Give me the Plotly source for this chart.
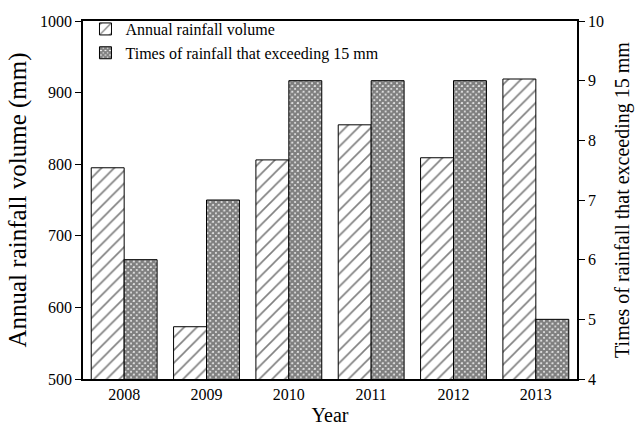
import plotly.graph_objects as go

years = ["2008", "2009", "2010", "2011", "2012", "2013"]
rainfall_mm = [795, 573, 806, 855, 809, 919]
times_over_15mm = [6, 7, 9, 9, 9, 5]

FONT = "Liberation Serif, Times New Roman, serif"

fig = go.Figure()
fig.add_trace(go.Bar(
    x=years, y=rainfall_mm, name="Annual rainfall volume",
    offsetgroup="a", yaxis="y",
    marker=dict(color="white", line=dict(color="black", width=1),
                pattern=dict(shape="/", fgcolor="black", bgcolor="white",
                             size=9, solidity=0.18)),
))
fig.add_trace(go.Bar(
    x=years, y=times_over_15mm, name="Times of rainfall that exceeding 15 mm",
    offsetgroup="b", yaxis="y2",
    marker=dict(color="white", line=dict(color="black", width=1),
                pattern=dict(shape="x", fgcolor="black", bgcolor="white",
                             size=4, solidity=0.85)),
))

fig.update_layout(
    width=644, height=437,
    margin=dict(l=83, r=67, t=15, b=58),
    plot_bgcolor="white", paper_bgcolor="white",
    barmode="group", bargap=0.2, bargroupgap=0,
    font=dict(family=FONT, size=16, color="black"),
    showlegend=True,
    legend=dict(x=0.005, y=1.025, xanchor="left", yanchor="top",
                bgcolor="rgba(0,0,0,0)", font=dict(size=16, family=FONT),
                tracegroupgap=0, itemwidth=30),
    xaxis=dict(
        title=dict(text="Year", font=dict(size=20, family=FONT), standoff=6),
        showline=True, linecolor="black", linewidth=1.5, mirror=True,
        ticks="", tickfont=dict(size=16, family=FONT),
        range=[-0.5, 5.5],
    ),
    yaxis=dict(
        title=dict(text="Annual rainfall volume (mm)", font=dict(size=25, family=FONT), standoff=6),
        range=[500, 1000], dtick=100,
        showline=True, linecolor="black", linewidth=1.8,
        ticks="outside", ticklen=6, tickwidth=1.2, tickcolor="black",
        showgrid=False, zeroline=False, tickfont=dict(size=16, family=FONT),
    ),
    yaxis2=dict(
        title=dict(text="Times of rainfall that exceeding 15 mm", font=dict(size=20, family=FONT), standoff=12),
        overlaying="y", side="right", range=[4, 10], dtick=1,
        showline=True, linecolor="black", linewidth=1.8,
        ticks="outside", ticklen=6, tickwidth=1.2, tickcolor="black",
        showgrid=False, zeroline=False, tickfont=dict(size=16, family=FONT),
    ),
)

fig.write_html("out.html")
